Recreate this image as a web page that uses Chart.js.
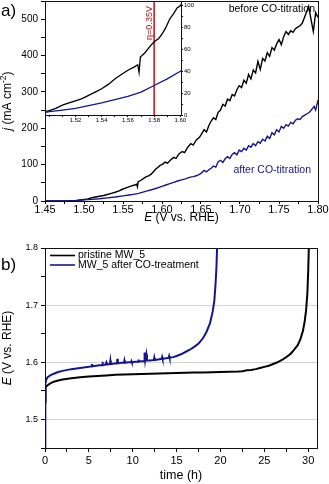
<!DOCTYPE html>
<html>
<head>
<meta charset="utf-8">
<script src="https://cdn.jsdelivr.net/npm/chart.js@4.4.1/dist/chart.umd.min.js"></script>
<style>
  html, body { margin: 0; padding: 0; background: #fff; }
  #page { position: relative; width: 329px; height: 484px; overflow: hidden; background: #fff; }
  canvas { position: absolute; }
</style>
</head>
<body>
<div id="page">
  <canvas id="chartA" width="329" height="235" style="left:0;top:0"></canvas>
  <canvas id="chartInset" width="160" height="124" style="left:46px;top:2px"></canvas>
  <canvas id="chartB" width="329" height="249" style="left:0;top:235px"></canvas>
</div>
<script>
const FONT = '"Liberation Sans", Arial, Helvetica, sans-serif';
const NAVY = '#16168c';

// a) polarisation curves: E (V vs. RHE) and j (mA cm-2)
const eBefore = [1.450, 1.470, 1.480, 1.490, 1.500, 1.505, 1.510, 1.515, 1.520, 1.525,
  1.530, 1.535, 1.540, 1.545, 1.550, 1.555, 1.560, 1.565, 1.5675, 1.5685,
  1.5695, 1.573, 1.577, 1.580, 1.5835, 1.586, 1.5885, 1.592, 1.595, 1.5975,
  1.600, 1.604, 1.607, 1.611, 1.615, 1.618, 1.622, 1.626, 1.629, 1.633,
  1.637, 1.640, 1.644, 1.648, 1.651, 1.654, 1.657, 1.660, 1.663, 1.666,
  1.669, 1.672, 1.675, 1.678, 1.681, 1.684, 1.687, 1.690, 1.693, 1.696,
  1.699, 1.702, 1.705, 1.708, 1.711, 1.714, 1.717, 1.720, 1.723, 1.726,
  1.729, 1.732, 1.735, 1.738, 1.741, 1.744, 1.747, 1.750, 1.753, 1.756,
  1.759, 1.762, 1.765, 1.768, 1.771, 1.774, 1.777, 1.780, 1.784, 1.788,
  1.791, 1.794, 1.797, 1.800];
const jBefore = [0, 0, 0.5, 1.5, 4, 6, 9, 11, 13, 15,
  18, 21, 24, 28, 33, 37, 41, 44, 46, 39,
  53, 57, 63, 67, 70, 74, 79, 88, 93, 98,
  100, 107, 104, 113, 120, 117, 130, 136, 133, 148,
  158, 154, 168, 175, 185, 196, 190, 207, 220, 229,
  224, 244, 250, 266, 261, 280, 276, 293, 289, 306,
  317, 312, 332, 324, 348, 336, 360, 352, 384, 362,
  392, 385, 408, 398, 422, 415, 432, 444, 430, 452,
  466, 458, 468, 464, 474, 478, 482, 490, 512, 535,
  500, 466, 518, 505];

const eAfter = [1.450, 1.470, 1.480, 1.490, 1.500, 1.510, 1.520, 1.530, 1.540, 1.550,
  1.560, 1.570, 1.580, 1.590, 1.600, 1.605, 1.610, 1.615, 1.620, 1.625,
  1.630, 1.635, 1.640, 1.645, 1.650, 1.654, 1.657, 1.660, 1.663, 1.666,
  1.669, 1.672, 1.675, 1.678, 1.681, 1.684, 1.687, 1.690, 1.693, 1.696,
  1.699, 1.702, 1.705, 1.708, 1.711, 1.714, 1.717, 1.720, 1.723, 1.726,
  1.729, 1.732, 1.735, 1.738, 1.741, 1.744, 1.747, 1.750, 1.753, 1.756,
  1.759, 1.762, 1.765, 1.768, 1.771, 1.774, 1.777, 1.780, 1.783, 1.786,
  1.789, 1.792, 1.795, 1.797, 1.800];
const jAfter = [0, 0, 0.3, 1, 3, 4.5, 6, 8.5, 11, 14,
  17, 21, 27, 33, 40, 44, 48, 51, 55, 58,
  61, 65, 67, 70, 76, 84, 80, 86, 90, 96,
  93, 108, 112, 106, 116, 122, 117, 128, 133, 127,
  140, 136, 145, 140, 152, 148, 158, 152, 163, 159,
  170, 165, 178, 172, 188, 182, 196, 190, 205, 200,
  210, 206, 216, 212, 222, 226, 224, 232, 236, 240,
  244, 252, 260, 250, 278];

const etaMark = 1.58;

const aXTicks = [1.45, 1.475, 1.50, 1.525, 1.55, 1.575, 1.60, 1.625, 1.65, 1.675, 1.70, 1.725, 1.75, 1.775, 1.80];
const aXLabels = ['1.45', '', '1.50', '', '1.55', '', '1.60', '', '1.65', '', '1.70', '', '1.75', '', '1.80'];
const aYTicks = [0, 50, 100, 150, 200, 250, 300, 350, 400, 450, 500, 550];
const aYLabels = ['0', '', '100', '', '200', '', '300', '', '400', '', '500', ''];

const insetXTicks = [1.50, 1.51, 1.52, 1.53, 1.54, 1.55, 1.56, 1.57, 1.58, 1.59, 1.60];
const insetXLabels = ['', '', '1.52', '', '1.54', '', '1.56', '', '1.58', '', '1.60'];
const insetYTicks = [0, 10, 20, 30, 40, 50, 60, 70, 80, 90, 100];
const insetYLabels = ['0', '', '20', '', '40', '', '60', '', '80', '', '100'];

// b) chronopotentiometry: time (h) and E (V vs. RHE)
const tPristine = [0, 0.03, 0.1, 0.3, 0.6, 1, 1.5, 2, 3, 4,
  5, 6, 7, 8, 9, 10, 11, 12, 13, 14,
  15, 16, 17, 18, 19, 20, 21, 22, 22.5, 23,
  23.5, 24, 24.5, 25, 25.5, 26, 26.5, 27, 27.5, 28,
  28.4, 28.8, 29.1, 29.4, 29.6, 29.75, 29.9, 30.0, 30.1];
const ePristine = [1.530, 1.550, 1.556, 1.560, 1.563, 1.566, 1.568, 1.570, 1.572, 1.574,
  1.575, 1.576, 1.577, 1.578, 1.5785, 1.579, 1.5795, 1.580, 1.5805, 1.581,
  1.5812, 1.5815, 1.582, 1.5823, 1.5826, 1.583, 1.5835, 1.584, 1.5845, 1.586,
  1.5865, 1.588, 1.590, 1.592, 1.594, 1.597, 1.600, 1.604, 1.609, 1.615,
  1.622, 1.630, 1.640, 1.655, 1.672, 1.690, 1.720, 1.760, 1.820];

const tTreated = [0, 0.02, 0.05, 0.15, 0.3, 0.6, 1, 1.5, 2, 3,
  4, 5, 5.3, 5.35, 5.4, 5.8, 6.2, 6.5, 6.55, 6.6,
  6.9, 7.0, 7.1, 7.4, 7.45, 7.5, 7.9, 8.2, 8.25, 8.3,
  8.7, 9.0, 9.05, 9.1, 9.5, 9.8, 9.85, 9.9, 10.3, 10.6,
  10.65, 10.7, 11.0, 11.3, 11.35, 11.42, 11.55, 11.62, 12.0, 12.4,
  12.45, 12.5, 12.9, 13.3, 13.35, 13.4, 13.8, 14.1, 14.15, 14.2,
  14.6, 15.0, 15.5, 16.0, 16.5, 17.0, 17.5, 18.0, 18.4, 18.8,
  19.1, 19.3, 19.45, 19.55, 19.65];
const eTreated = [1.450, 1.545, 1.563, 1.570, 1.574, 1.577, 1.580, 1.583, 1.585, 1.588,
  1.590, 1.592, 1.593, 1.597, 1.593, 1.594, 1.595, 1.595, 1.601, 1.595,
  1.596, 1.600, 1.596, 1.597, 1.603, 1.597, 1.598, 1.598, 1.606, 1.598,
  1.599, 1.599, 1.603, 1.599, 1.600, 1.600, 1.602, 1.600, 1.601, 1.601,
  1.605, 1.601, 1.602, 1.602, 1.617, 1.603, 1.614, 1.603, 1.603, 1.604,
  1.608, 1.604, 1.605, 1.606, 1.609, 1.606, 1.607, 1.608, 1.611, 1.608,
  1.609, 1.611, 1.614, 1.618, 1.622, 1.627, 1.633, 1.642, 1.653, 1.668,
  1.688, 1.708, 1.740, 1.770, 1.820];

const bXTicks = [0, 2.5, 5, 7.5, 10, 12.5, 15, 17.5, 20, 22.5, 25, 27.5, 30];
const bXLabels = ['0', '', '5', '', '10', '', '15', '', '20', '', '25', '', '30'];
const bYTicks = [1.45, 1.50, 1.55, 1.60, 1.65, 1.70, 1.75, 1.80];
const bYLabels = ['', '1.5', '', '1.6', '', '1.7', '', '1.8'];

function points(xs, ys) {
  return xs.map((x, i) => ({x: x, y: ys[i]}));
}

// fixed axis sizes so the plot boxes land where they are in the figure
function fixedAxis(ticks, labels, size, horizontal) {
  return {
    afterBuildTicks: s => { s.ticks = ticks.map(v => ({value: v})); },
    afterFit: s => {
      if (horizontal) s.height = size; else s.width = size;
      s.paddingTop = 0; s.paddingBottom = 0; s.paddingLeft = 0; s.paddingRight = 0;
    },
    callback: (v, i) => labels[i]
  };
}

function drawTitle(ctx, parts, x, y, rotate, size) {
  ctx.save();
  ctx.translate(x, y);
  if (rotate) ctx.rotate(-Math.PI / 2);
  ctx.textBaseline = 'alphabetic';
  ctx.textAlign = 'left';
  ctx.fillStyle = '#000';
  const fontOf = p => (p.italic ? 'italic ' : '') + (p.sup ? size * 0.7 : size) + 'px ' + FONT;
  let total = 0;
  parts.forEach(p => { ctx.font = fontOf(p); p.w = ctx.measureText(p.text).width; total += p.w; });
  let cx = -total / 2;
  parts.forEach(p => {
    ctx.font = fontOf(p);
    ctx.fillText(p.text, cx, p.sup ? -size * 0.4 : 0);
    cx += p.w;
  });
  ctx.restore();
}

function drawFrame(ctx, ca) {
  ctx.save();
  ctx.strokeStyle = '#111';
  ctx.lineWidth = 1;
  ctx.strokeRect(ca.left + 0.5, ca.top + 0.5, ca.right - ca.left, ca.bottom - ca.top);
  ctx.restore();
}

const baseOptions = {
  animation: false,
  responsive: false,
  devicePixelRatio: 1,
  events: [],
  plugins: { legend: { display: false }, tooltip: { enabled: false } },
  elements: { point: { radius: 0 }, line: { tension: 0 } }
};

// ---------- panel a ----------
const ax = fixedAxis(aXTicks, aXLabels, 34, true);
const ay = fixedAxis(aYTicks, aYLabels, 45, false);

const panelAText = {
  id: 'panelAText',
  afterDraw(chart) {
    const {ctx, chartArea: ca} = chart;
    drawFrame(ctx, ca);
    ctx.save();
    ctx.font = '10.5px ' + FONT;
    ctx.textAlign = 'right';
    ctx.textBaseline = 'alphabetic';
    ctx.fillStyle = '#000';
    ctx.fillText('before CO-titration', ca.right - 3, ca.top + 10.5);
    ctx.fillStyle = NAVY;
    ctx.fillText('after CO-titration', ca.right - 7, 173);
    ctx.font = '17px ' + FONT;
    ctx.fillStyle = '#000';
    ctx.textAlign = 'left';
    ctx.fillText('a)', 1, 16);
    ctx.restore();
    drawTitle(ctx, [{text: 'E', italic: true}, {text: ' (V vs. RHE)'}], (ca.left + ca.right) / 2, 221, false, 12);
    drawTitle(ctx, [{text: 'j', italic: true}, {text: ' (mA cm'}, {text: '-2', sup: true}, {text: ')'}],
      10.5, (ca.top + ca.bottom) / 2, true, 12);
  }
};

new Chart(document.getElementById('chartA'), {
  type: 'line',
  data: {
    datasets: [
      { label: 'after CO-titration', data: points(eAfter, jAfter), borderColor: NAVY, borderWidth: 1.4, order: 0 },
      { label: 'before CO-titration', data: points(eBefore, jBefore), borderColor: '#000', borderWidth: 1.4, order: 1 }
    ]
  },
  options: Object.assign({}, baseOptions, {
    layout: { padding: { top: 1, right: 11, left: 0, bottom: 0 } },
    scales: {
      x: {
        type: 'linear', min: 1.45, max: 1.80,
        afterBuildTicks: ax.afterBuildTicks, afterFit: ax.afterFit,
        ticks: { autoSkip: false, maxRotation: 0, padding: -1, color: '#000', font: { family: FONT, size: 11 }, callback: ax.callback },
        grid: { drawOnChartArea: false, tickLength: 3, tickColor: '#000' },
        border: { display: false }
      },
      y: {
        type: 'linear', min: 0, max: 550,
        afterBuildTicks: ay.afterBuildTicks, afterFit: ay.afterFit,
        ticks: { autoSkip: false, padding: 3, color: '#000', font: { family: FONT, size: 10 }, callback: ay.callback },
        grid: { drawOnChartArea: false, tickLength: 4, tickColor: '#000' },
        border: { display: false }
      }
    }
  }),
  plugins: [panelAText]
});

// ---------- inset of panel a ----------
const ix = fixedAxis(insetXTicks, insetXLabels, 11, true);
const iy = fixedAxis(insetYTicks, insetYLabels, 25, false);

const insetText = {
  id: 'insetText',
  afterDraw(chart) {
    const {ctx, chartArea: ca, scales} = chart;
    ctx.save();
    ctx.strokeStyle = '#111';
    ctx.lineWidth = 1;
    ctx.beginPath();
    ctx.moveTo(ca.left, ca.bottom + 0.5);
    ctx.lineTo(ca.right + 0.5, ca.bottom + 0.5);
    ctx.lineTo(ca.right + 0.5, ca.top);
    ctx.stroke();
    const xm = scales.x.getPixelForValue(etaMark);
    ctx.translate(xm - 2, 21);
    ctx.rotate(-Math.PI / 2);
    ctx.font = '9px ' + FONT;
    ctx.fillStyle = '#a3262b';
    ctx.textAlign = 'center';
    ctx.textBaseline = 'alphabetic';
    ctx.fillText('\u03b7=0.35V', 0, 0);
    ctx.restore();
  }
};

new Chart(document.getElementById('chartInset'), {
  type: 'line',
  data: {
    datasets: [
      { label: 'eta', data: [{x: etaMark, y: 0}, {x: etaMark, y: 103.4}], borderColor: '#c41e24', borderWidth: 1.6, order: 2 },
      { label: 'after CO-titration', data: points(eAfter, jAfter), borderColor: NAVY, borderWidth: 1.3, order: 0 },
      { label: 'before CO-titration', data: points(eBefore, jBefore), borderColor: '#000', borderWidth: 1.3, order: 1 }
    ]
  },
  options: Object.assign({}, baseOptions, {
    layout: { padding: 0 },
    scales: {
      x: {
        type: 'linear', min: 1.4975, max: 1.6005,
        afterBuildTicks: ix.afterBuildTicks, afterFit: ix.afterFit,
        ticks: { autoSkip: false, maxRotation: 0, padding: 0, color: '#000', font: { family: FONT, size: 6 }, callback: ix.callback },
        grid: { drawOnChartArea: false, tickLength: 2, tickColor: '#000' },
        border: { display: false }
      },
      y: {
        type: 'linear', position: 'right', min: 0, max: 103.4,
        afterBuildTicks: iy.afterBuildTicks, afterFit: iy.afterFit,
        ticks: { autoSkip: false, padding: 1, color: '#000', font: { family: FONT, size: 6 }, callback: iy.callback },
        grid: { drawOnChartArea: false, tickLength: 2, tickColor: '#000' },
        border: { display: false }
      }
    }
  }),
  plugins: [insetText]
});

// ---------- panel b ----------
const bx = fixedAxis(bXTicks, bXLabels, 36, true);
const by = fixedAxis(bYTicks, bYLabels, 45, false);

const panelBText = {
  id: 'panelBText',
  afterDraw(chart) {
    const {ctx, chartArea: ca} = chart;
    drawFrame(ctx, ca);
    ctx.save();
    ctx.font = '10.5px ' + FONT;
    ctx.textBaseline = 'middle';
    ctx.textAlign = 'left';
    ['pristine MW_5', 'MW_5 after CO-treatment'].forEach((name, i) => {
      const ds = chart.data.datasets.find(d => d.label === name);
      const y = ca.top + 7.5 + i * 9.5;
      ctx.strokeStyle = ds.borderColor;
      ctx.lineWidth = 1.6;
      ctx.beginPath();
      ctx.moveTo(ca.left + 5, y);
      ctx.lineTo(ca.left + 30, y);
      ctx.stroke();
      ctx.fillStyle = '#000';
      ctx.fillText(name, ca.left + 33, y);
    });
    ctx.font = '17px ' + FONT;
    ctx.textBaseline = 'alphabetic';
    ctx.fillText('b)', 1, 34.5);
    ctx.restore();
    drawTitle(ctx, [{text: 'time (h)'}], (ca.left + ca.right) / 2, 244, false, 12.5);
    drawTitle(ctx, [{text: 'E', italic: true}, {text: ' (V vs. RHE)'}], 11, (ca.top + ca.bottom) / 2, true, 12);
  }
};

new Chart(document.getElementById('chartB'), {
  type: 'line',
  data: {
    datasets: [
      { label: 'pristine MW_5', data: points(tPristine, ePristine), borderColor: '#000', borderWidth: 2, order: 1, clip: 0 },
      { label: 'MW_5 after CO-treatment', data: points(tTreated, eTreated), borderColor: NAVY, borderWidth: 2, order: 0, clip: 0 }
    ]
  },
  options: Object.assign({}, baseOptions, {
    layout: { padding: { top: 13, right: 12, left: 0, bottom: 0 } },
    scales: {
      x: {
        type: 'linear', min: 0, max: 31,
        afterBuildTicks: bx.afterBuildTicks, afterFit: bx.afterFit,
        ticks: { autoSkip: false, maxRotation: 0, padding: 2, color: '#000', font: { family: FONT, size: 11 }, callback: bx.callback },
        grid: { drawOnChartArea: false, tickLength: 4, tickColor: '#000' },
        border: { display: false }
      },
      y: {
        type: 'linear', min: 1.45, max: 1.80,
        afterBuildTicks: by.afterBuildTicks, afterFit: by.afterFit,
        ticks: { autoSkip: false, padding: 3, color: '#000', font: { family: FONT, size: 9 }, callback: by.callback },
        grid: {
          drawOnChartArea: true, tickLength: 4, tickColor: '#000', lineWidth: 1,
          color: c => (bYLabels[c.index] && c.index < bYTicks.length - 1) ? '#d4d4d4' : 'rgba(0,0,0,0)'
        },
        border: { display: false }
      }
    }
  }),
  plugins: [panelBText]
});
</script>
</body>
</html>
